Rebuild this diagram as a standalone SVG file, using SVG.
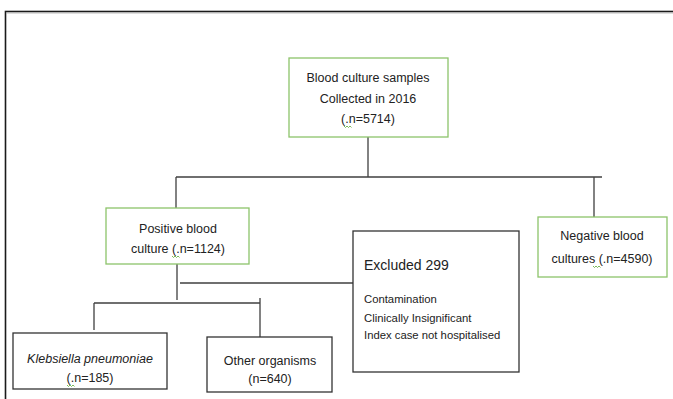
<svg xmlns="http://www.w3.org/2000/svg" width="673" height="399" viewBox="0 0 673 399">
<style>
text{font-family:"Liberation Sans",Arial,sans-serif;font-size:12.5px;fill:#222}
.c{text-anchor:middle}
.g{fill:#fff;stroke:#8dc46a;stroke-width:1.3}
.b{fill:#fff;stroke:#333;stroke-width:1.3}
.ln{stroke:#404040;stroke-width:1.3;fill:none}
.sq{stroke:#5aa832;stroke-width:0.8;fill:none}
</style>
<rect width="673" height="399" fill="#fff"/>
<rect x="5.5" y="11.5" width="690" height="400" fill="none" stroke="#1a1a1a" stroke-width="1.6"/>
<line x1="6" y1="13" x2="673" y2="13" stroke="#aaa" stroke-width="0.8"/>
<g id="connectors">
<path class="ln" d="M368 137V177M176 177H602M176 177V208M594 177V217"/>
<path class="ln" d="M177 264V300M180 283H353"/>
<path class="ln" d="M94 303H260M94 303V330M260 298V345"/>
</g>
<g id="top">
<rect class="g" x="289" y="58" width="159" height="79"/>
<text class="c" x="368" y="82">Blood culture samples</text>
<text class="c" x="368" y="103">Collected in 2016</text>
<text class="c" x="368" y="123">(.n=5714)</text>
<path class="sq" d="M344 126l1.5 1.5 1.5-1.5 1.5 1.5 1.5-1.5 1.5 1.5"/>
</g>
<g id="positive">
<rect class="g" x="106" y="208" width="143" height="56"/>
<text class="c" x="178" y="233">Positive blood</text>
<text class="c" x="178" y="253">culture (.n=1124)</text>
<path class="sq" d="M172 256l1.5 1.5 1.5-1.5 1.5 1.5 1.5-1.5 1.5 1.5"/>
</g>
<g id="negative">
<rect class="g" x="538" y="217" width="129" height="60"/>
<text class="c" x="602" y="240">Negative blood</text>
<text class="c" x="602" y="263">cultures (.n=4590)</text>
<path class="sq" d="M593 266l1.5 1.5 1.5-1.5 1.5 1.5 1.5-1.5 1.5 1.5"/>
</g>
<g id="excluded">
<rect class="b" x="353" y="231" width="166" height="141"/>
<text x="364" y="270" style="font-size:14px">Excluded 299</text>
<text x="364" y="303" style="font-size:11.3px">Contamination</text>
<text x="364" y="322" style="font-size:11.3px">Clinically Insignificant</text>
<text x="364" y="339" style="font-size:11.3px">Index case not hospitalised</text>
</g>
<g id="klebsiella">
<rect class="b" x="13" y="333" width="154" height="56"/>
<text class="c" x="90" y="363" font-style="italic">Klebsiella pneumoniae</text>
<text class="c" x="90" y="382">(.n=185)</text>
<path class="sq" d="M67 385l1.5 1.5 1.5-1.5 1.5 1.5 1.5-1.5 1.5 1.5"/>
</g>
<g id="other">
<rect class="b" x="207" y="337" width="125" height="55"/>
<text class="c" x="270" y="365">Other organisms</text>
<text class="c" x="270" y="383">(n=640)</text>
</g>
</svg>
